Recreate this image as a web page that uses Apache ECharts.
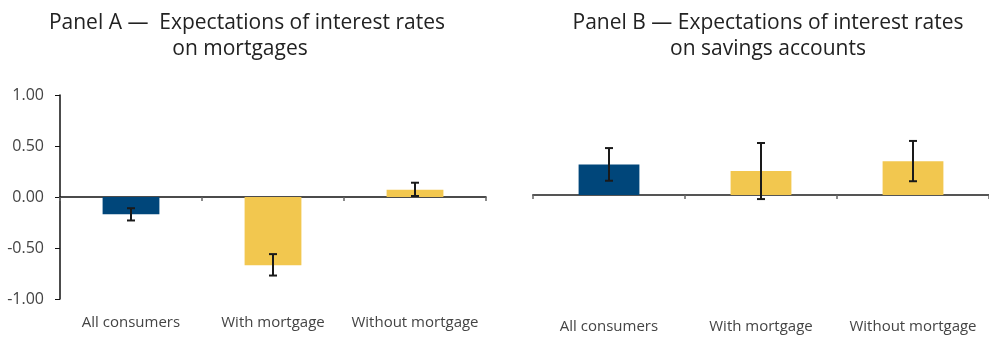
<!DOCTYPE html>
<html>
<head>
<meta charset="utf-8">
<script src="https://cdn.jsdelivr.net/npm/echarts@6/dist/echarts.min.js"></script>
<style>
  html, body { margin: 0; padding: 0; background: #fff; }
  #chart { width: 989px; height: 338px; }
</style>
</head>
<body>
<div id="chart"></div>
<script>
// Categories shared by both panels
const categories = ['All consumers', 'With mortgage', 'Without mortgage'];

// Panel A: expected change in mortgage rates
const mortgageMean = [-0.17, -0.67, 0.07];
const mortgageLow  = [-0.23, -0.77, 0.01];
const mortgageHigh = [-0.11, -0.56, 0.14];

// Panel B: expected change in savings account rates
const savingsMean = [0.30, 0.235, 0.33];
const savingsLow  = [0.14, -0.04, 0.135];
const savingsHigh = [0.46, 0.51, 0.53];

// Y-axis tick labels (Panel A)
const yTicks = [-1.00, -0.50, 0.00, 0.50, 1.00];

const NAVY = '#00467A';
const GOLD = '#F2C74F';
const FONT = '"Open Sans", "Noto Sans", sans-serif';

function barData(values) {
  return values.map((v, i) => ({
    value: v,
    itemStyle: { color: i === 0 ? NAVY : GOLD }
  }));
}

function errorData(low, high) {
  return low.map((l, i) => [i, l, high[i]]);
}

function renderErrorBar(params, api) {
  const x = api.value(0);
  const lo = api.coord([x, api.value(1)]);
  const hi = api.coord([x, api.value(2)]);
  const half = 4;
  const style = { stroke: '#1a1a1a', lineWidth: 2 };
  return {
    type: 'group',
    children: [
      { type: 'line', shape: { x1: hi[0], y1: hi[1], x2: lo[0], y2: lo[1] }, style },
      { type: 'line', shape: { x1: hi[0] - half, y1: hi[1], x2: hi[0] + half, y2: hi[1] }, style },
      { type: 'line', shape: { x1: lo[0] - half, y1: lo[1], x2: lo[0] + half, y2: lo[1] }, style }
    ]
  };
}

// Bottom axis carrying only the category names
function labelAxis(gridIndex, margin) {
  return {
    gridIndex, type: 'category', data: categories, position: 'bottom',
    axisLine: { show: false, onZero: false },
    axisTick: { show: false },
    axisLabel: { interval: 0, margin, fontFamily: FONT, fontSize: 15, color: '#444' }
  };
}

// Axis drawn on the zero line, with category separators
function zeroAxis(gridIndex, color, width) {
  return {
    gridIndex, type: 'category', data: categories, position: 'top',
    axisLine: { show: true, onZero: true, onZeroAxisIndex: gridIndex, lineStyle: { color, width } },
    axisTick: { show: true, inside: true, length: 4, lineStyle: { color: '#666', width: 1.5 } },
    axisLabel: { show: false }
  };
}

const chart = echarts.init(document.getElementById('chart'), null, { renderer: 'canvas' });

const titleStyle = { fontFamily: FONT, fontSize: 21, fontWeight: 'normal', color: '#222' };

chart.setOption({
  animation: false,
  title: [
    { text: 'Panel A \u2014  Expectations of interest rates', left: 242, top: 8, textAlign: 'center', textStyle: titleStyle },
    { text: 'on mortgages', left: 235, top: 34, textAlign: 'center', textStyle: titleStyle },
    { text: 'Panel B \u2014 Expectations of interest rates', left: 763, top: 8, textAlign: 'center', textStyle: titleStyle },
    { text: 'on savings accounts', left: 763, top: 34, textAlign: 'center', textStyle: titleStyle }
  ],
  grid: [
    { left: 60, top: 95, width: 426, height: 204, outerBoundsMode: 'none', containLabel: false },
    { left: 533, top: 93, width: 456, height: 204, outerBoundsMode: 'none', containLabel: false }
  ],
  xAxis: [
    labelAxis(0, 16),
    zeroAxis(0, '#111', 1.5),
    labelAxis(1, 22),
    zeroAxis(1, '#555', 2)
  ],
  yAxis: [
    {
      gridIndex: 0, type: 'value',
      min: yTicks[0], max: yTicks[yTicks.length - 1], interval: 0.5,
      axisLine: { show: true, onZero: false, lineStyle: { color: '#111', width: 1.5 } },
      axisTick: { show: true, length: 5, lineStyle: { color: '#111' } },
      splitLine: { show: false },
      axisLabel: {
        margin: 16, fontFamily: FONT, fontSize: 16, color: '#444',
        formatter: v => v.toFixed(2)
      }
    },
    {
      gridIndex: 1, type: 'value',
      min: -1, max: 1, interval: 0.5,
      show: false,
      splitLine: { show: false }
    }
  ],
  series: [
    {
      type: 'bar', xAxisIndex: 0, yAxisIndex: 0,
      barWidth: '40%', data: barData(mortgageMean)
    },
    {
      type: 'custom', xAxisIndex: 0, yAxisIndex: 0,
      renderItem: renderErrorBar, data: errorData(mortgageLow, mortgageHigh), z: 5
    },
    {
      type: 'bar', xAxisIndex: 2, yAxisIndex: 1,
      barWidth: '40%', data: barData(savingsMean)
    },
    {
      type: 'custom', xAxisIndex: 2, yAxisIndex: 1,
      renderItem: renderErrorBar, data: errorData(savingsLow, savingsHigh), z: 5
    }
  ]
});
</script>
</body>
</html>
